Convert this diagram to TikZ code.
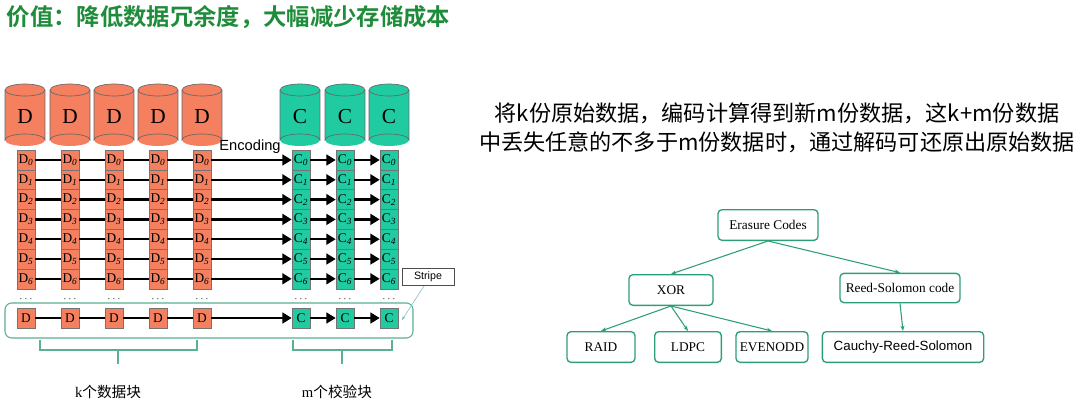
\documentclass[tikz,border=0pt]{standalone}
\usepackage{fontspec}
\setmainfont{Liberation Serif}
\newfontfamily\cjk{Noto Sans CJK SC}
\newfontfamily\cjkb{Noto Sans CJK SC Bold}
\newfontfamily\arial{Liberation Sans}
\usetikzlibrary{arrows.meta,decorations.pathreplacing}
\definecolor{dred}{HTML}{F4805F}
\definecolor{cgrn}{HTML}{20CBA2}
\definecolor{tgrn}{HTML}{2E9E74}
\definecolor{titleg}{HTML}{1E8C3A}
\tikzset{
 blk/.style={draw=black!55,line width=0.4pt,minimum width=13.5pt,minimum height=15pt,inner sep=0pt,font=\fontsize{10}{10}\selectfont},
 dblk/.style={blk,fill=dred},
 cblk/.style={blk,fill=cgrn},
 lnk/.style={line width=1.8pt},
 arr/.style={line width=1.8pt,-{Triangle[length=7pt,width=8pt]}},
 tbox/.style={draw=tgrn,line width=1pt,rounded corners=3pt,inner sep=0pt,font=\fontsize{10}{12}\selectfont},
 tarr/.style={draw=tgrn,line width=0.8pt,-{Stealth[length=4pt,width=3pt]}},
 dots/.style={font=\fontsize{7}{7}\selectfont}
}
\newcommand{\cyl}[4]{% x, color, label, name
 \fill[#2] (#1-20,90) rectangle (#1+20,140);
 \fill[#2] (#1,140) ellipse (20 and 6);
 \draw[black!60,line width=0.5pt] (#1-20,90) -- (#1-20,140) arc[start angle=180,end angle=360,x radius=20,y radius=6] -- (#1+20,90);
 \filldraw[fill=#2,draw=black!60,line width=0.5pt] (#1,90) ellipse (20 and 6);
 \node[font=\fontsize{16}{16}\selectfont] (#4) at (#1,117) {#3};
}
\begin{document}
\begin{tikzpicture}[x=0.75pt,y=-0.75pt]
\useasboundingbox (0,0) rectangle (1080,410);
\node[anchor=west,text=titleg,font=\cjkb\fontsize{17.5}{18}\selectfont] (title) at (2,17) {价值：降低数据冗余度，大幅减少存储成本};
% cylinders
\foreach \x [count=\i] in {25,70,114,158,202} {\cyl{\x}{dred}{D}{cd\i}}
\foreach \x [count=\i] in {300,345,389} {\cyl{\x}{cgrn}{C}{cc\i}}
% blocks
\foreach \r in {0,...,6} {
 \pgfmathsetmacro{\yy}{160+\r*19.8}
 \foreach \x [count=\i] in {26,70,114,158,202} {
  \node[dblk] (d\i-\r) at (\x,\yy) {D$_{\mathit{\r}}$};
 }
 \foreach \x [count=\i] in {301,345,389} {
  \node[cblk] (c\i-\r) at (\x,\yy) {C$_{\mathit{\r}}$};
 }
 \draw[lnk] (d1-\r) -- (d2-\r); \draw[lnk] (d2-\r) -- (d3-\r);
 \draw[lnk] (d3-\r) -- (d4-\r); \draw[lnk] (d4-\r) -- (d5-\r);
 \draw[arr] (d5-\r) -- (c1-\r); \draw[arr] (c1-\r) -- (c2-\r); \draw[arr] (c2-\r) -- (c3-\r);
}
\foreach \x [count=\i] in {26,70,114,158,202} {
 \node[dots] (dd\i) at (\x,299) {$\cdots$};
 \node[dblk] (d\i-b) at (\x,318) {D};
}
\foreach \x [count=\i] in {301,345,389} {
 \node[dots] (dc\i) at (\x,299) {$\cdots$};
 \node[cblk] (c\i-b) at (\x,318) {C};
}
\draw[lnk] (d1-b) -- (d2-b); \draw[lnk] (d2-b) -- (d3-b);
\draw[lnk] (d3-b) -- (d4-b); \draw[lnk] (d4-b) -- (d5-b);
\draw[arr] (d5-b) -- (c1-b); \draw[arr] (c1-b) -- (c2-b); \draw[arr] (c2-b) -- (c3-b);
\node[font=\arial\fontsize{11}{11}\selectfont] (enc) at (250,147) {Encoding};
% stripe
\draw[tgrn!80,line width=0.8pt,rounded corners=5pt] (5,303) rectangle (413,338);
\node[draw=black!70,line width=0.5pt,minimum width=39pt,minimum height=13pt,inner sep=0pt,font=\arial\fontsize{8}{8}\selectfont] (stripe) at (428,277) {Stripe};
\coordinate (stripetip) at (402,320);
\draw[cyan!60!black!60,line width=0.4pt,-{Stealth[length=3pt]}] (stripe.south) ++(-4,0) -- (stripetip);
% braces
\draw[tgrn!80,line width=0.8pt] (40,340) -- (40,350) -- (197,350) -- (197,340);
\draw[tgrn!80,line width=0.8pt] (118,350) -- (118,364);
\draw[tgrn!80,line width=0.8pt] (293,340) -- (293,350) -- (392,350) -- (392,340);
\draw[tgrn!80,line width=0.8pt] (342,350) -- (342,364);
\node[font=\fontsize{11}{11}\selectfont] (klab) at (108,392) {k{\cjk 个数据块}};
\node[font=\fontsize{11}{11}\selectfont] (mlab) at (337,392) {m{\cjk 个校验块}};
% right text
\node[align=center,font=\cjk\fontsize{16.6}{22}\selectfont] (desc) at (777,128) {将k份原始数据，编码计算得到新m份数据，这k+m份数据\\中丢失任意的不多于m份数据时，通过解码可还原出原始数据};
% tree
\node[tbox,minimum width=75pt,minimum height=23pt] (ec) at (768,225) {Erasure Codes};
\node[tbox,minimum width=63pt,minimum height=23pt] (xor) at (671,290) {XOR};
\node[tbox,minimum width=90pt,minimum height=22pt] (rs) at (900,288) {Reed-Solomon code};
\node[tbox,minimum width=51pt,minimum height=23pt] (raid) at (601,347) {RAID};
\node[tbox,minimum width=50pt,minimum height=23pt] (ldpc) at (688,347) {LDPC};
\node[tbox,minimum width=54pt,minimum height=23pt] (even) at (772,347) {EVENODD};
\node[tbox,minimum width=121pt,minimum height=23pt,font=\arial\fontsize{10}{12}\selectfont] (cauchy) at (903,347) {Cauchy-Reed-Solomon};
\draw[tarr] (ec.south) -- (xor.north);
\draw[tarr] (ec.south) -- (rs.north);
\draw[tarr] (xor.south) -- (raid.north);
\draw[tarr] (xor.south) -- (ldpc.north);
\draw[tarr] (xor.south) -- (even.north);
\draw[tarr] (rs.south) -- (cauchy.north);
\end{tikzpicture}
\end{document}
